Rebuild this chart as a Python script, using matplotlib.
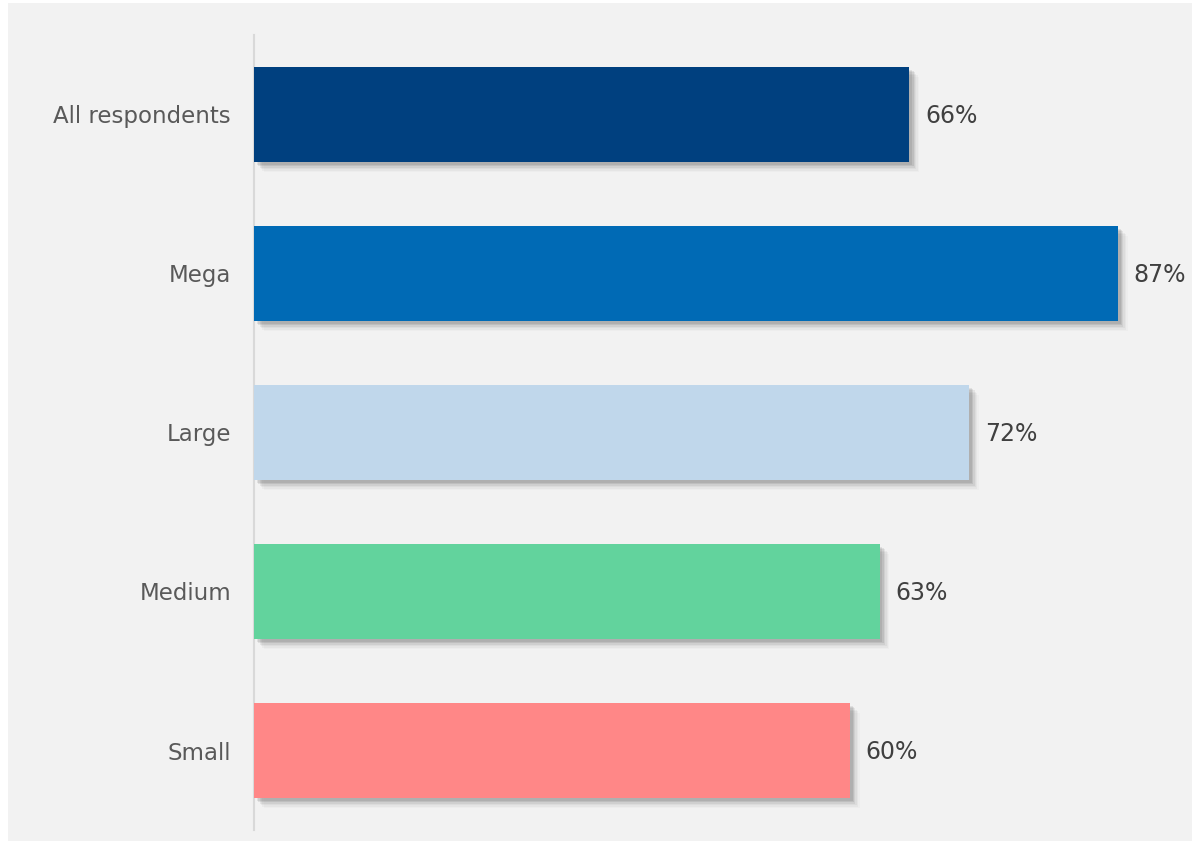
import matplotlib.pyplot as plt
import matplotlib.patheffects as pe
from matplotlib.patches import Rectangle

categories = ["All respondents", "Mega", "Large", "Medium", "Small"]
values = [66, 87, 72, 63, 60]
colors = ["#00407F", "#006AB5", "#C0D7EB", "#62D39D", "#FF8787"]

plt.rcParams['font.family'] = ['DejaVu Sans']

fig = plt.figure(figsize=(11.92, 8.42), dpi=100, facecolor="white")
# light grey panel behind the chart
fig.patches.append(Rectangle((8 / 1192, 1 / 842), 1, 838 / 842,
                             transform=fig.transFigure, facecolor="#F2F2F2",
                             edgecolor="none", zorder=-10))

ax = fig.add_axes([254 / 1192, 12 / 842, 938 / 1192, 795 / 842])
ax.set_facecolor("none")
ax.set_zorder(1)

y = list(range(len(categories)))
bars = ax.barh(y, values, height=0.6, color=colors, zorder=3)

# soft drop shadow under each bar
shadow = [pe.SimplePatchShadow(offset=(d, -d), shadow_rgbFace="black", alpha=a)
          for d, a in [(7, 0.02), (6, 0.03), (5, 0.04), (4, 0.06),
                       (3, 0.08), (2, 0.08)]]
for b in bars:
    b.set_path_effects(shadow + [pe.Normal()])

for yi, v in zip(y, values):
    ax.text(v + 1.6, yi + 0.01, f"{v}%", va="center", ha="left",
            fontsize=17, color="#404040")

ax.set_xlim(0, 938 / 9.93)
ax.set_ylim(len(categories) - 0.5, -0.5)
ax.set_yticks(y)
ax.set_yticklabels(categories, fontsize=16.5, color="#595959")
ax.tick_params(axis="y", length=0, pad=16.5)
ax.set_xticks([])
for s in ["top", "right", "bottom"]:
    ax.spines[s].set_visible(False)
ax.spines["left"].set_color("#D9D9D9")
ax.spines["left"].set_linewidth(1.5)

fig.savefig("out.png", dpi=100, facecolor="white")
